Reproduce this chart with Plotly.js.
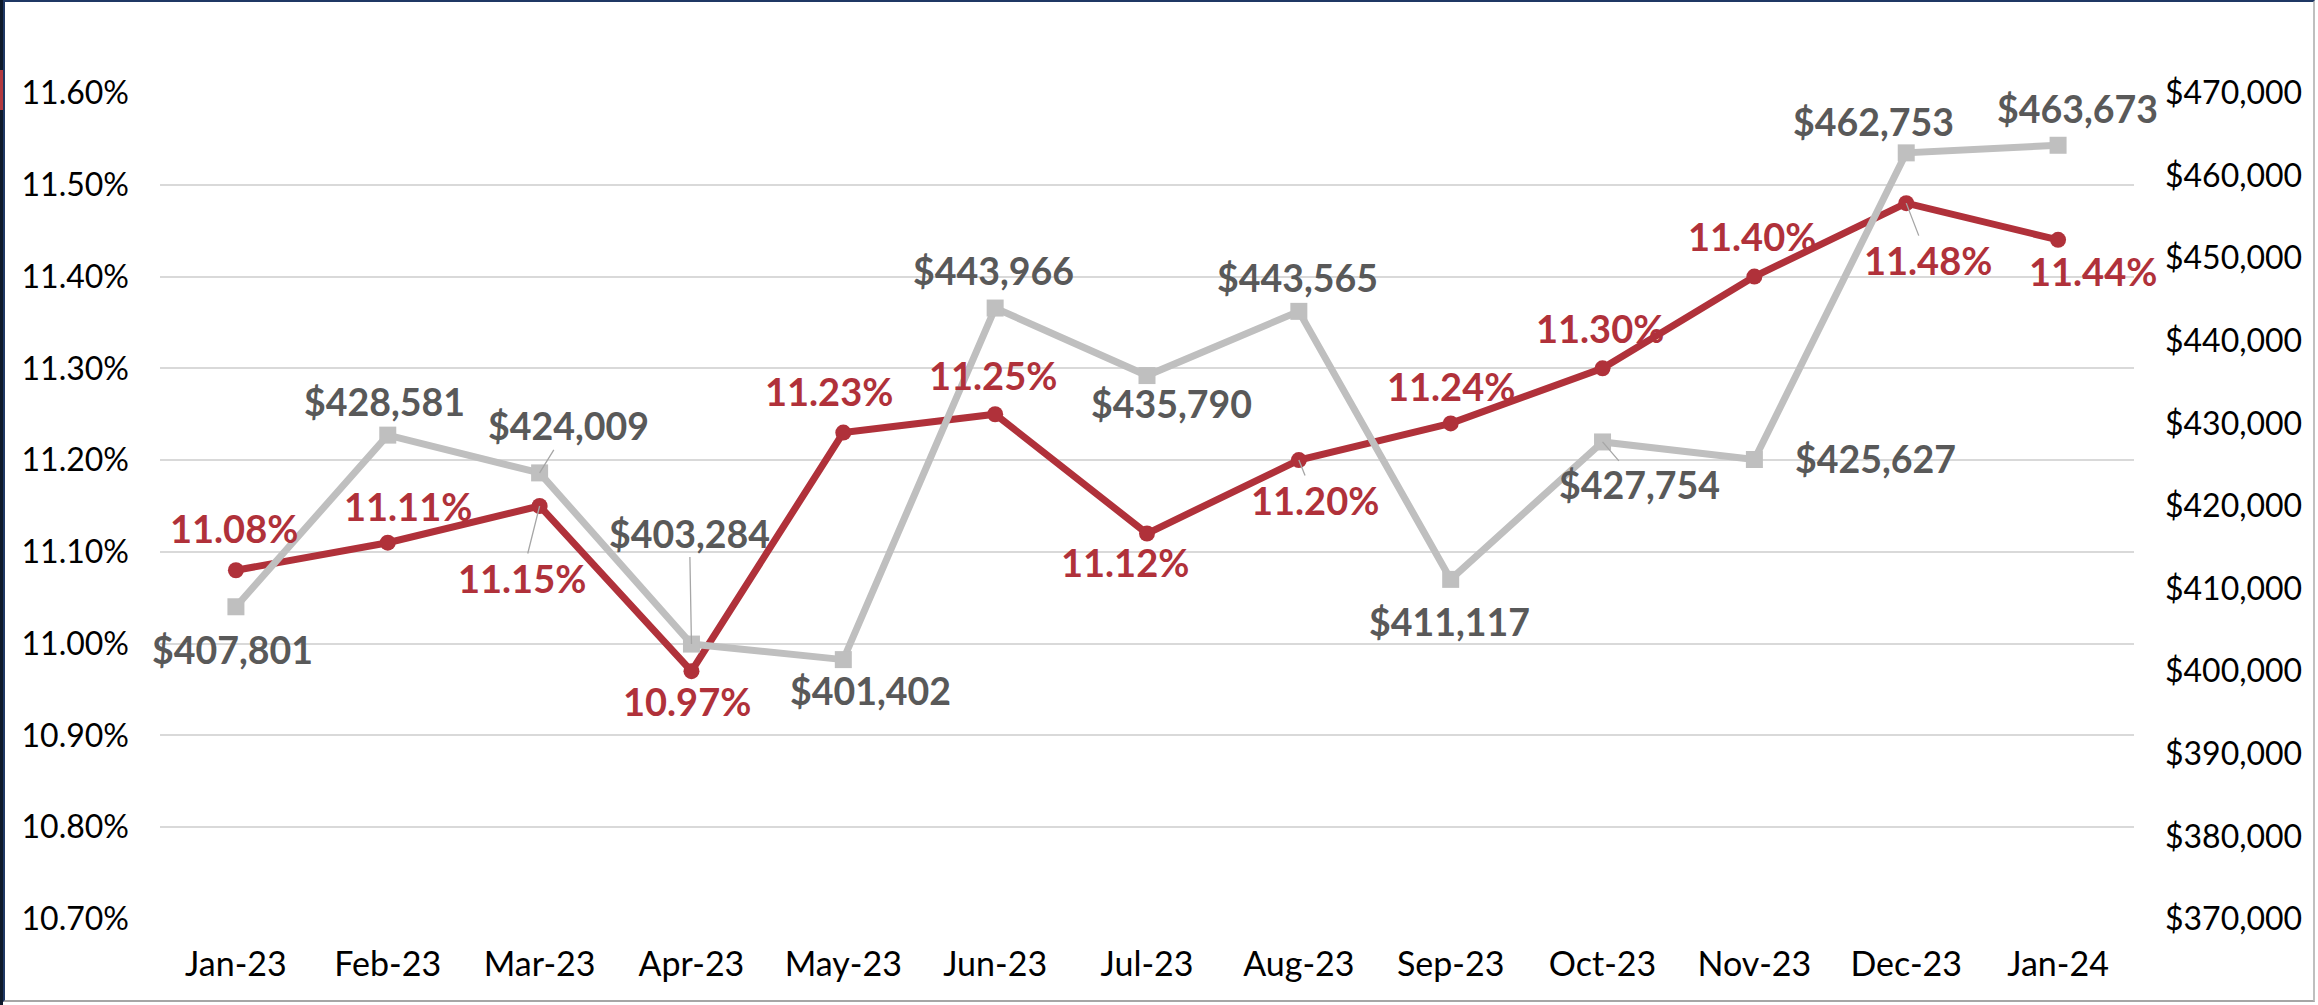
<!DOCTYPE html>
<html>
<head>
<meta charset="utf-8">
<script src="https://cdn.plot.ly/plotly-3.0.1.min.js"></script>
<style>
  html, body { margin: 0; padding: 0; background: #ffffff; }
  #wrap { position: relative; width: 2318px; height: 1005px; overflow: hidden; }
  #chart { position: absolute; left: 0; top: 0; width: 2318px; height: 1005px; }
  #frame { position: absolute; left: 3px; top: 0; width: 2312px; height: 1002px;
           border-top: 2px solid #1F3864; border-left: 2px solid #1F3864;
           border-right: 2px solid #BFBFBF; border-bottom: 2px solid #A6A6A6;
           box-sizing: border-box; pointer-events: none; }
  #strip { position: absolute; left: 0; top: 0; width: 3px; height: 1005px; background: #0E1A2B; pointer-events: none; }
  #stripRed { position: absolute; left: 0; top: 70px; width: 4px; height: 40px; background: #B3393F; pointer-events: none; }
</style>
</head>
<body>
<div id="wrap">
  <div id="chart"></div>
  <div id="strip"></div>
  <div id="stripRed"></div>
  <div id="frame"></div>
</div>
<script>
// ---- Data ----
const months = ["Jan-23","Feb-23","Mar-23","Apr-23","May-23","Jun-23","Jul-23","Aug-23","Sep-23","Oct-23","Nov-23","Dec-23","Jan-24"];
const ratePct = [11.08, 11.11, 11.15, 10.97, 11.23, 11.25, 11.12, 11.20, 11.24, 11.30, 11.40, 11.48, 11.44];
const priceUSD = [407801, 428581, 424009, 403284, 401402, 443966, 435790, 443565, 411117, 427754, 425627, 462753, 463673];

// ---- Label placement (pixel offsets from each point; style only) ----
const rateLabelOffsets = [[-2,-42],[20,-37],[-18,72],[-4,30],[-14,-42],[-2,-39],[-22,28],[16,40],[0,-37],[-3,-40],[-2,-41],[22,57],[35,31]];
const rateLeader =      [false,false,true,false,false,false,false,true,false,false,false,true,false];
const priceLabelOffsets = [[-3,43],[-3,-34],[29,-47],[-2,-111],[27,31],[-2,-38],[24,28],[-1,-34],[-1,42],[37,43],[121,-1],[-33,-31],[19,-37]];
const priceLeader =      [false,false,true,true,false,false,false,false,false,true,false,false,false];

const RED = '#B0313A';
const GRAYLINE = '#BFBFBF';
const GRAYTEXT = '#595959';
const FONT = 'Lato, "Open Sans", sans-serif';

const traces = [
  {
    x: months, y: priceUSD, yaxis: 'y2', type: 'scatter', mode: 'lines+markers',
    line: { color: GRAYLINE, width: 7 },
    marker: { symbol: 'square', size: 17, color: GRAYLINE },
    hoverinfo: 'skip', showlegend: false
  },
  {
    x: months, y: ratePct, yaxis: 'y', type: 'scatter', mode: 'lines+markers',
    line: { color: RED, width: 7 },
    marker: { symbol: 'circle', size: 16, color: RED },
    hoverinfo: 'skip', showlegend: false
  }
];

const annotations = [];
months.forEach((m, i) => {
  annotations.push({
    x: m, y: priceUSD[i], xref: 'x', yref: 'y2',
    text: '<b>$' + priceUSD[i].toLocaleString('en-US') + '</b>',
    showarrow: true, arrowhead: 0, arrowwidth: 1.3,
    arrowcolor: priceLeader[i] ? '#A6A6A6' : 'rgba(0,0,0,0)',
    ax: priceLabelOffsets[i][0], ay: priceLabelOffsets[i][1],
    font: { family: FONT, size: 37.5, color: GRAYTEXT }
  });
  annotations.push({
    x: m, y: ratePct[i], xref: 'x', yref: 'y',
    text: '<b>' + ratePct[i].toFixed(2) + '%</b>',
    showarrow: true, arrowhead: 0, arrowwidth: 1.3,
    arrowcolor: rateLeader[i] ? '#A6A6A6' : 'rgba(0,0,0,0)',
    ax: rateLabelOffsets[i][0], ay: rateLabelOffsets[i][1],
    font: { family: FONT, size: 38, color: RED }
  });
});

const layout = {
  width: 2318, height: 1005,
  margin: { l: 160, r: 184, t: 93, b: 86 },
  paper_bgcolor: '#ffffff', plot_bgcolor: '#ffffff',
  font: { family: FONT, color: '#000000', size: 31 },
  showlegend: false,
  xaxis: {
    type: 'category', range: [-0.5, 12.5],
    showgrid: false, zeroline: false, showline: false,
    ticks: '', ticklabelstandoff: 22,
    tickfont: { family: FONT, size: 34, color: '#000000' }
  },
  yaxis: {
    range: [10.70, 11.60], tick0: 10.7, dtick: 0.1,
    tickformat: '.2f', ticksuffix: '%',
    showgrid: true, gridcolor: '#D9D9D9', gridwidth: 2,
    zeroline: false, showline: false, ticks: '', ticklabelstandoff: 30,
    tickfont: { family: FONT, size: 32, color: '#000000' }
  },
  yaxis2: {
    overlaying: 'y', side: 'right',
    range: [370000, 470000], tick0: 370000, dtick: 10000,
    tickformat: ',d', tickprefix: '$',
    showgrid: false, zeroline: false, showline: false, ticks: '', ticklabelstandoff: 30,
    tickfont: { family: FONT, size: 32, color: '#000000' }
  },
  annotations: annotations
};

Plotly.newPlot('chart', traces, layout, { staticPlot: true, displayModeBar: false });
</script>
</body>
</html>
